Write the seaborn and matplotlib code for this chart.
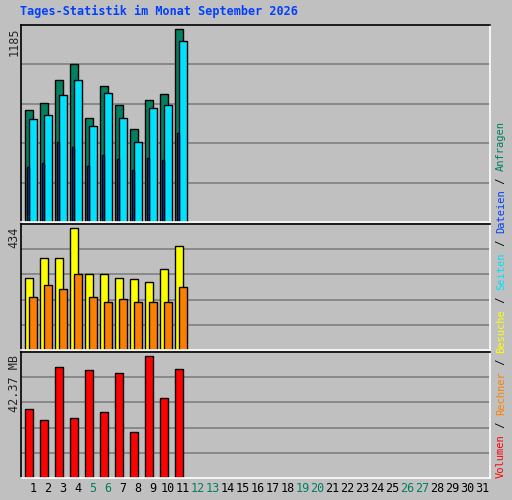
import matplotlib
matplotlib.use("Agg")
import matplotlib.pyplot as plt
import seaborn as sns
import numpy as np

days = list(range(1, 32))
weekend = [5, 6, 12, 13, 19, 20, 26, 27]

hits = [688, 732, 874, 967, 639, 837, 719, 570, 750, 787, 1185]
files = [632, 657, 781, 874, 589, 794, 639, 490, 700, 719, 1110]
pages = [335, 360, 490, 459, 341, 409, 384, 316, 391, 378, 546]
visits = [256, 325, 325, 434, 270, 270, 256, 252, 241, 288, 368]
sites = [187, 231, 216, 270, 187, 170, 180, 172, 170, 172, 223]
volume = [23.9, 20.0, 38.5, 20.7, 37.3, 22.8, 36.2, 16.1, 42.37, 27.8, 37.7]

BG = "#c0c0c0"
sns.set_style("white")
plt.rcParams["font.family"] = ["DejaVu Sans Mono"]

fig = plt.figure(figsize=(5.12, 5.0), dpi=100, facecolor=BG)
x = np.arange(1, len(hits) + 1)
XL, XR = 0.2, 31.53

def make_ax(top, bottom, ymax):
    ax = fig.add_axes([21 / 512, 1 - bottom / 500, 469 / 512, (bottom - top) / 500])
    ax.set_facecolor(BG)
    ax.set_xlim(XL, XR)
    ax.set_ylim(0, ymax)
    for g in np.linspace(0, ymax, 6)[1:-1]:
        ax.axhline(g, color="#808080", lw=1.2, zorder=0)
    ax.set_xticks([])
    ax.set_yticks([])
    for s in ax.spines.values():
        s.set_color("black")
        s.set_linewidth(1.2)
    ax.spines["bottom"].set_color("white")
    ax.spines["right"].set_color("white")
    return ax

kw = dict(edgecolor="black", linewidth=1, align="edge")

ax1 = make_ax(25, 222, 1185 * 1.02)
ax1.bar(x - 0.53, hits, width=0.53, color="#008060", **kw)
ax1.bar(x - 0.26, files, width=0.53, color="#00e0ff", **kw)
ax1.bar(x - 0.40, pages, width=0.13, color="#0040ff", **kw)

ax2 = make_ax(224, 350, 434 * 1.03)
ax2.bar(x - 0.53, visits, width=0.53, color="#ffff00", **kw)
ax2.bar(x - 0.26, sites, width=0.53, color="#ff8000", **kw)

ax3 = make_ax(352, 478, 42.37 * 1.03)
ax3.bar(x - 0.53, volume, width=0.53, color="#ff0000", **kw)

fig.text(20 / 512, 1 - 11 / 500, "Tages-Statistik im Monat September 2026",
         color="#0040ff", fontsize=8.5, fontweight="bold", va="center")

for lbl, yt in [("1185", 28), ("434", 227), ("42.37 MB", 355)]:
    fig.text(14 / 512, 1 - yt / 500, lbl, rotation=90, fontsize=8.5,
             va="top", ha="center")

for d in days:
    col = "#008060" if d in weekend else "black"
    px = 21 + (d - XL) * 469 / (XR - XL)
    fig.text(px / 512, 1 - 489 / 500, str(d),
             color=col, fontsize=8.5, ha="center", va="center")

legend = [("Volumen", "#ff0000"), (" / ", "black"), ("Rechner", "#ff8000"),
          (" / ", "black"), ("Besuche", "#ffff00"), (" / ", "black"),
          ("Seiten", "#00e0ff"), (" / ", "black"), ("Dateien", "#0040ff"),
          (" / ", "black"), ("Anfragen", "#008060")]
fs = 7.5
cw = 0.602 * fs * 100 / 72
ypos = 478
for txt, col in legend:
    fig.text(501 / 512, 1 - ypos / 500, txt, rotation=90, color=col,
             fontsize=fs, ha="center", va="bottom")
    ypos -= cw * len(txt)

fig.savefig("out.png", dpi=100, facecolor=BG)
